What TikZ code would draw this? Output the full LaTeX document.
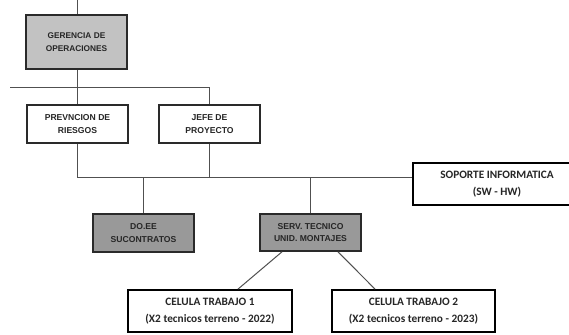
\documentclass[tikz,border=0pt]{standalone}
\usepackage{fontspec}
\setmainfont{Carlito}
\newfontfamily\arialf{Liberation Sans}
\usetikzlibrary{calc}
\definecolor{linec}{HTML}{505050}
\definecolor{boxline}{HTML}{2A2A2A}
\tikzset{
  conn/.style={draw=linec, line width=1pt},
  abox/.style={draw=boxline, line width=1.1pt, rectangle, inner sep=0pt, align=center,
     font=\arialf\bfseries\fontsize{8.6}{12.5}\selectfont, text=black!85},
  wbox/.style={abox, fill=white},
  lgbox/.style={abox, fill=black!24, line width=2pt, font=\arialf\bfseries\fontsize{8.3}{13.5}\selectfont},
  dgbox/.style={abox, fill=black!40, line width=1.6pt},
  cbox/.style={draw=black, line width=1.8pt, rectangle, inner sep=0pt, align=center, fill=white,
     font=\bfseries\fontsize{11.3}{17}\selectfont, text=black!85},
}
\begin{document}
\begin{tikzpicture}[x=1pt,y=-1pt]
\useasboundingbox (0,0) rectangle (569,334);
\fill[white] (0,0) rectangle (569,334);
% nodes
\node[lgbox, minimum width=101pt, minimum height=54pt] (ger) at (76.5,42) {GERENCIA DE\\OPERACIONES};
\node[wbox, minimum width=101pt, minimum height=38pt] (prev) at (77.5,124) {PREVNCION DE\\RIESGOS};
\node[wbox, minimum width=101pt, minimum height=38pt] (jefe) at (209.5,124) {JEFE DE\\PROYECTO};
\node[cbox, minimum width=168pt, minimum height=42pt] (sop) at (497,184) {SOPORTE INFORMATICA\\(SW - HW)};
\node[dgbox, minimum width=101pt, minimum height=38pt] (doee) at (143.5,233) {DO.EE\\SUCONTRATOS};
\node[dgbox, minimum width=101pt, minimum height=37pt] (serv) at (310.5,232.5) {SERV. TECNICO\\UNID. MONTAJES};
\node[cbox, minimum width=164pt, minimum height=42pt] (cel1) at (210,311) {CELULA TRABAJO 1\\(X2 tecnicos terreno - 2022)};
\node[cbox, minimum width=163pt, minimum height=42pt] (cel2) at (413.5,311) {CELULA TRABAJO 2\\(X2 tecnicos terreno - 2023)};
% coordinates
\coordinate (topend) at (77,0);
\coordinate (hl) at (10,88);
\coordinate (bus) at (0,177);
% connectors
\draw[conn] (topend) -- (ger.north -| topend);
\draw[conn] (ger.south -| topend) -- (prev.north -| topend);
\draw[conn] (hl) -- (jefe.north |- hl) -- (jefe.north);
\draw[conn] (prev.south) -- (prev.south |- bus) -- (sop.west |- bus);
\draw[conn] (jefe.south) -- (jefe.south |- bus);
\draw[conn] (doee.north |- bus) -- (doee.north);
\draw[conn] (serv.north |- bus) -- (serv.north);
\draw[conn] ($(serv.south)+(-28.5,0)$) -- ($(cel1.north)+(28,0)$);
\draw[conn] ($(serv.south)+(27.5,0)$) -- ($(cel2.north)+(-38.5,0)$);
\end{tikzpicture}
\end{document}
